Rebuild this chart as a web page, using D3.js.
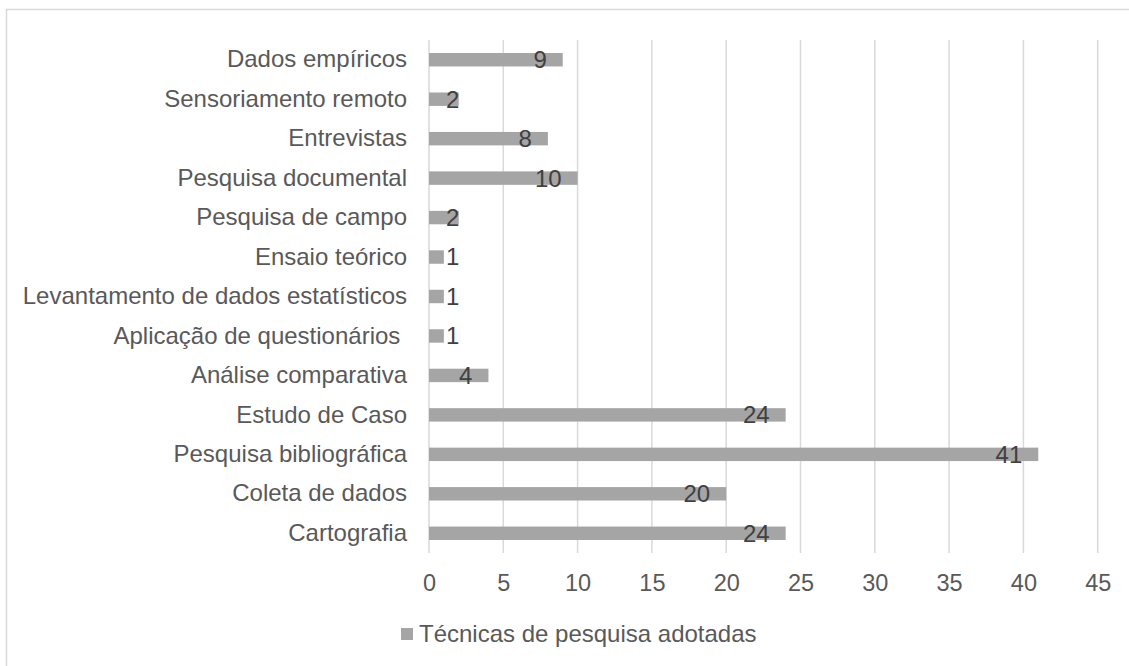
<!DOCTYPE html>
<html>
<head>
<meta charset="utf-8">
<script src="https://cdn.jsdelivr.net/npm/d3@7"></script>
<style>
  html, body { margin: 0; padding: 0; background: #ffffff; }
  svg { display: block; font-family: "Liberation Sans", Arial, sans-serif; }
  text { white-space: pre; }
</style>
</head>
<body>
<svg id="chart" width="1129" height="666"></svg>
<script>
// Research techniques adopted and how many works used each one
const categories = [
  "Dados empíricos",
  "Sensoriamento remoto",
  "Entrevistas",
  "Pesquisa documental",
  "Pesquisa de campo",
  "Ensaio teórico",
  "Levantamento de dados estatísticos",
  "Aplicação de questionários ",
  "Análise comparativa",
  "Estudo de Caso",
  "Pesquisa bibliográfica",
  "Coleta de dados",
  "Cartografia"
];
const counts = [9, 2, 8, 10, 2, 1, 1, 1, 4, 24, 41, 20, 24];
const xTicks = [0, 5, 10, 15, 20, 25, 30, 35, 40, 45];
const seriesName = "Técnicas de pesquisa adotadas";

const svg = d3.select("#chart");
const fontSize = 24;
const tickFontSize = 23.5;
const fontFamily = "'Liberation Sans', Arial, sans-serif";

// Outer chart frame
svg.append("rect")
  .attr("x", 6.5).attr("y", 9.5)
  .attr("width", 1200).attr("height", 700)
  .attr("fill", "#ffffff")
  .attr("stroke", "#d9d9d9")
  .attr("stroke-width", 1.5);

const x = d3.scaleLinear().domain([0, 45]).range([429, 1097.7]);
const y = d3.scaleBand().domain(categories).range([40, 553]).paddingInner(0.66).paddingOuter(0.33);

// Vertical gridlines
svg.append("g")
  .selectAll("line")
  .data(xTicks)
  .join("line")
  .attr("x1", d => x(d)).attr("x2", d => x(d))
  .attr("y1", 40).attr("y2", 553)
  .attr("stroke", "#d9d9d9")
  .attr("stroke-width", 1.5);

// Bottom axis tick labels
const xAxis = d3.axisBottom(x).tickValues(xTicks).tickSize(0).tickPadding(0);
const gx = svg.append("g").attr("transform", "translate(0,583)").call(xAxis);
gx.select(".domain").remove();
gx.selectAll("text")
  .attr("dy", "0.35em")
  .attr("y", 0)
  .attr("fill", "#595959")
  .style("font-size", tickFontSize + "px")
  .style("font-family", fontFamily);

// Category labels
const yAxis = d3.axisLeft(y).tickSize(0).tickPadding(0);
const gy = svg.append("g").attr("transform", "translate(407,0)").call(yAxis);
gy.select(".domain").remove();
gy.selectAll("text")
  .attr("fill", "#595959")
  .style("font-size", fontSize + "px")
  .style("font-family", fontFamily)
  .style("white-space", "pre");

// Bars
svg.append("g")
  .selectAll("rect")
  .data(categories)
  .join("rect")
  .attr("x", x(0))
  .attr("y", d => y(d))
  .attr("width", (d, i) => x(counts[i]) - x(0))
  .attr("height", y.bandwidth())
  .attr("fill", "#a5a5a5");

// Value labels near the bar end, kept clear of the axis for short bars
const labels = svg.append("g")
  .selectAll("text")
  .data(categories)
  .join("text")
  .attr("y", d => y(d) + y.bandwidth() / 2)
  .attr("dy", "0.35em")
  .attr("fill", "#404040")
  .style("font-size", fontSize + "px")
  .style("font-family", fontFamily)
  .text((d, i) => counts[i]);
labels.each(function(d, i) {
  const w = this.getComputedTextLength();
  const left = Math.max(x(counts[i]) - 16 - w, x(0) + 17);
  d3.select(this).attr("x", left);
});

// Legend
const legend = svg.append("g").attr("transform", "translate(401,634)");
legend.append("rect")
  .attr("x", 0).attr("y", -6)
  .attr("width", 12).attr("height", 12)
  .attr("fill", "#a5a5a5");
legend.append("text")
  .attr("x", 18).attr("y", 0)
  .attr("dy", "0.35em")
  .attr("fill", "#595959")
  .style("font-size", fontSize + "px")
  .style("font-family", fontFamily)
  .text(seriesName);
</script>
</body>
</html>
